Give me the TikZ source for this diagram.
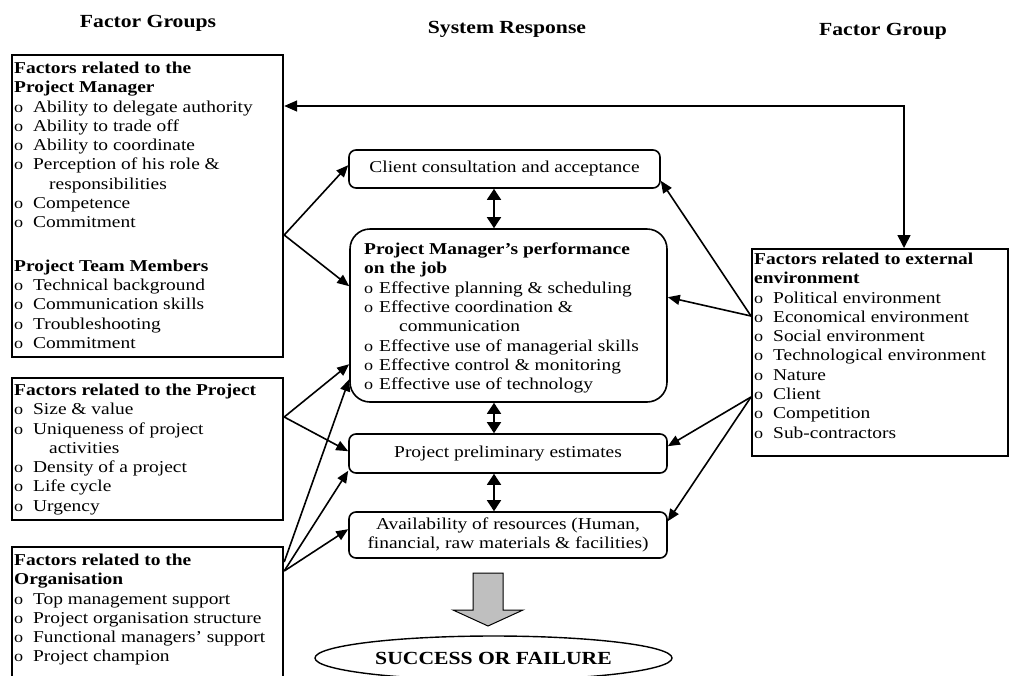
\documentclass[tikz,border=0pt]{standalone}
\usepackage{fontspec}
\setmainfont{Liberation Serif}[FakeStretch=1.17]
\usetikzlibrary{arrows.meta,shapes.geometric,calc}

% list markers: a small "o" in a fixed-width box
\newcommand{\itm}{\makebox[19pt][l]{\fontsize{15.5}{15.5}\selectfont o}}
\newcommand{\itmc}{\makebox[15pt][l]{\fontsize{15.5}{15.5}\selectfont o}}
\newcommand{\cont}{\hspace*{35pt}}

\begin{document}
\begin{tikzpicture}[x=1pt,y=-1pt,
  frame/.style={draw, line width=2.2pt, inner sep=0pt, anchor=north west},
  rbox/.style={draw, line width=1.6pt, rounded corners=7pt, inner sep=0pt,
               align=center, font=\fontsize{16.6}{19.3}\selectfont},
  body/.style={inner sep=0pt, anchor=north west, align=left,
               font=\fontsize{16.6}{19.3}\selectfont},
  head/.style={inner sep=0pt, anchor=base, font=\fontsize{18.5}{20}\selectfont\bfseries},
  link/.style={line width=1.6pt, -{Triangle[length=12pt,width=10pt]}},
  dlink/.style={line width=1.6pt,
                {Triangle[length=11pt,width=14pt]}-{Triangle[length=11pt,width=14pt]}},
]
\useasboundingbox (0,0) rectangle (1009,675);
\fill[white] (0,0) rectangle (1009,675);
\clip (0,0) rectangle (1009,675);

% column headings
\node[head] (hL) at (148,27.7) {Factor Groups};
\node[head] (hC) at (507,33.5) {System Response};
\node[head] (hR) at (883,35) {Factor Group};

% left column: factor groups
\node[frame, minimum width=271pt, minimum height=302pt] (mgr) at (11,54) {};
\node[body] (mgrT) at (14,61.7) {%
  \textbf{Factors related to the}\\
  \textbf{Project Manager}\\
  \itm Ability to delegate authority\\
  \itm Ability to trade off\\
  \itm Ability to coordinate\\
  \itm Perception of his role \&\\
  \cont responsibilities\\
  \itm Competence\\
  \itm Commitment\\[24pt]
  \textbf{Project Team Members}\\
  \itm Technical background\\
  \itm Communication skills\\
  \itm Troubleshooting\\
  \itm Commitment};

\node[frame, minimum width=271pt, minimum height=142pt] (proj) at (11,377) {};
\node[body] (projT) at (14,383.7) {%
  \textbf{Factors related to the Project}\\
  \itm Size \& value\\
  \itm Uniqueness of project\\
  \cont activities\\
  \itm Density of a project\\
  \itm Life cycle\\
  \itm Urgency};

\node[frame, minimum width=271pt, minimum height=150pt] (org) at (11,546) {};
\node[body] (orgT) at (14,553.7) {%
  \textbf{Factors related to the}\\
  \textbf{Organisation}\\
  \itm Top management support\\
  \itm Project organisation structure\\
  \itm Functional managers’ support\\
  \itm Project champion};

% right column: external environment
\node[frame, minimum width=256pt, minimum height=207pt] (ext) at (751,248) {};
\node[body] (extT) at (754,252.7) {%
  \textbf{Factors related to external}\\
  \textbf{environment}\\
  \itm Political environment\\
  \itm Economical environment\\
  \itm Social environment\\
  \itm Technological environment\\
  \itm Nature\\
  \itm Client\\
  \itm Competition\\
  \itm Sub-contractors};

% centre column: system response
\node[rbox, minimum width=311pt, minimum height=38pt] (client) at (504.5,169)
  {Client consultation and acceptance};
\node[rbox, rounded corners=20pt, minimum width=317pt, minimum height=173pt] (perf)
  at (508.5,315.5) {};
\node[body] (perfT) at (364,242.7) {%
  \textbf{Project Manager’s performance}\\
  \textbf{on the job}\\
  \itmc Effective planning \& scheduling\\
  \itmc Effective coordination \&\\
  \cont communication\\
  \itmc Effective use of managerial skills\\
  \itmc Effective control \& monitoring\\
  \itmc Effective use of technology};
\node[rbox, minimum width=318pt, minimum height=39pt] (prelim) at (508,453.5)
  {Project preliminary estimates};
\node[rbox, minimum width=318pt, minimum height=46pt] (avail) at (508,535)
  {Availability of resources (Human,\\financial, raw materials \& facilities)};

% outcome
\draw[line width=1pt, fill=gray!50] (473,573) -- (503,573) -- (503,610) -- (523,610)
  -- (488,626) -- (453,610) -- (473,610) -- cycle;
\node[draw, ellipse, line width=1.4pt, inner sep=0pt, minimum width=357pt,
      minimum height=44pt, font=\fontsize{18.5}{20}\selectfont\bfseries]
  (result) at (493.5,658) {SUCCESS OR FAILURE};

% links between the response boxes
\coordinate (axis) at (494,0);
\draw[dlink] (client.south -| axis) -- (perf.north -| axis);
\draw[dlink] (perf.south -| axis) -- (prelim.north -| axis);
\draw[dlink] (prelim.south -| axis) -- (avail.north -| axis);

% project manager factors
\coordinate (mgrO) at ([yshift=-181pt]mgr.north east);
\draw[link] (mgrO) -- ([yshift=-16pt]client.north west);
\draw[link] (mgrO) -- ([yshift=-58pt]perf.north west);
\draw[line width=1.6pt, {Triangle[length=13pt,width=11pt]}-{Triangle[length=13pt,width=13pt]}]
  ([yshift=-52pt]mgr.north east) -| ([xshift=153pt]ext.north west);

% project factors
\coordinate (projO) at ([yshift=-40pt]proj.north east);
\draw[link] (projO) -- ([yshift=-136pt]perf.north west);
\draw[link] (projO) -- ([yshift=-18pt]prelim.north west);

% organisation factors
\coordinate (orgA) at ([yshift=-16pt]org.north east);
\coordinate (orgB) at ([yshift=-25pt]org.north east);
\draw[link] (orgA) -- ([yshift=-151pt]perf.north west);
\draw[link] (orgB) -- ([yshift=3pt]prelim.south west);
\draw[link] (orgB) -- ([yshift=-18pt]avail.north west);

% external environment factors
\coordinate (extA) at ([yshift=-68pt]ext.north west);
\coordinate (extB) at ([yshift=-149pt]ext.north west);
\draw[link] (extA) -- ([yshift=8pt]client.south east);
\draw[link] (extA) -- ([yshift=-69pt]perf.north east);
\draw[link] (extB) -- ([yshift=-13pt]prelim.north east);
\draw[link] (extB) -- ([yshift=-10pt]avail.north east);
\end{tikzpicture}
\end{document}
